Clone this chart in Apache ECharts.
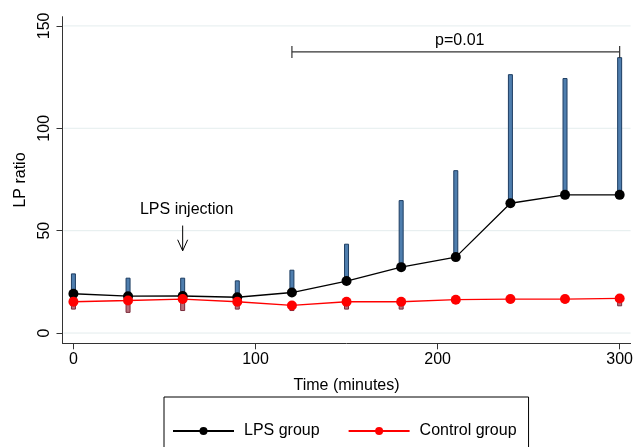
<!DOCTYPE html>
<html>
<head>
<meta charset="utf-8">
<script src="https://cdn.jsdelivr.net/npm/echarts@6/dist/echarts.min.js"></script>
<style>
html,body{margin:0;padding:0;background:#fff;}
#chart{width:636px;height:447px;}
</style>
</head>
<body>
<div id="chart"></div>
<script>
const times = [0, 30, 60, 90, 120, 150, 180, 210, 240, 270, 300];
const lpsMean = [19.2, 18.0, 18.1, 17.5, 19.8, 25.4, 32.2, 37.1, 63.4, 67.5, 67.5];
const lpsUpper = [28.9, 26.8, 26.8, 25.5, 30.7, 43.4, 64.7, 79.3, 126.2, 124.3, 134.5];
const ctrlMean = [15.3, 15.9, 16.6, 15.3, 13.5, 15.3, 15.3, 16.3, 16.6, 16.6, 16.9];
const ctrlLower = [11.7, 10.1, 11.0, 11.7, 11.0, 11.7, 11.7, 14.5, 14.8, 14.8, 13.3];
const xTicks = [0, 100, 200, 300];
const yTicks = [0, 50, 100, 150];
const seriesNames = ['LPS group', 'Control group'];
const pText = 'p=0.01';
const pRange = [120, 300];
const pLevel = 137.3;
const injText = 'LPS injection';
const injTime = 60;

const FONT = '"Liberation Sans", Arial, sans-serif';
const chart = echarts.init(document.getElementById('chart'), null, {renderer: 'canvas'});

function barRender(fill, stroke) {
  return function (params, api) {
    const p0 = api.coord([api.value(0), api.value(1)]);
    const p1 = api.coord([api.value(0), api.value(2)]);
    return {
      type: 'rect',
      shape: {x: p0[0] - 2, y: Math.min(p0[1], p1[1]), width: 4, height: Math.abs(p1[1] - p0[1])},
      style: {fill: fill, stroke: stroke, lineWidth: 1}
    };
  };
}

const option = {
  animation: false,
  backgroundColor: '#fff',
  textStyle: {fontFamily: FONT},
  grid: {left: 62.5, top: 16.7, width: 570.5, height: 326.6, containLabel: false},
  xAxis: {
    type: 'value', min: -6, max: 306,
    name: 'Time (minutes)', nameLocation: 'middle', nameGap: 34,
    nameTextStyle: {fontSize: 16, color: '#000', fontFamily: FONT},
    axisLine: {show: true, onZero: false, lineStyle: {color: '#333', width: 1}},
    axisTick: {show: true, customValues: xTicks, length: 6, lineStyle: {color: '#333'}},
    axisLabel: {customValues: xTicks, fontSize: 16, color: '#000', margin: 8, fontFamily: FONT},
    splitLine: {show: false}
  },
  yAxis: {
    type: 'value', min: -5, max: 154.5,
    name: 'LP ratio', nameLocation: 'middle', nameGap: 30, nameRotate: 90,
    nameTextStyle: {fontSize: 16, color: '#000', fontFamily: FONT},
    axisLine: {show: true, onZero: false, lineStyle: {color: '#333', width: 1}},
    axisTick: {show: true, customValues: yTicks, length: 6, lineStyle: {color: '#333'}},
    axisLabel: {customValues: yTicks, rotate: 90, fontSize: 16, color: '#000', margin: 10, fontFamily: FONT},
    splitLine: {show: false}
  },
  legend: {
    data: seriesNames,
    left: 164, top: 397,
    padding: [26, 12, 30, 8],
    borderColor: '#000', borderWidth: 1,
    itemWidth: 61, itemHeight: 10, itemGap: 28,
    textStyle: {fontSize: 16, color: '#000', fontFamily: FONT, padding: [0, 0, 0, 5]}
  },
  series: [
    {
      type: 'custom', name: 'gridlines', silent: true,
      encode: {y: 0},
      data: yTicks.map(v => [v]),
      renderItem: function (params, api) {
        const y = api.coord([0, api.value(0)])[1];
        const cs = params.coordSys;
        return {
          type: 'line',
          shape: {x1: cs.x + 1, y1: y, x2: cs.x + cs.width, y2: y},
          style: {stroke: '#e4edee', lineWidth: 1}
        };
      },
      z: 0
    },
    {
      type: 'custom', name: 'lpsSD',
      renderItem: barRender('#4f7eae', '#1d3d62'),
      encode: {x: 0, y: [1, 2]},
      data: times.map((t, i) => [t, lpsMean[i], lpsUpper[i]]),
      z: 1
    },
    {
      type: 'custom', name: 'ctrlSD',
      renderItem: barRender('#b9707c', '#7a2a3a'),
      encode: {x: 0, y: [1, 2]},
      data: times.map((t, i) => [t, ctrlMean[i], ctrlLower[i]]),
      z: 1
    },
    {
      type: 'line', name: seriesNames[0],
      data: times.map((t, i) => [t, lpsMean[i]]),
      symbol: 'circle', symbolSize: 10,
      lineStyle: {color: '#000', width: 1.3},
      itemStyle: {color: '#000'},
      z: 3
    },
    {
      type: 'line', name: seriesNames[1],
      data: times.map((t, i) => [t, ctrlMean[i]]),
      symbol: 'circle', symbolSize: 10,
      lineStyle: {color: '#ff0000', width: 1.3},
      itemStyle: {color: '#ff0000'},
      z: 4
    },
    {
      type: 'custom', name: 'annot', silent: true,
      data: [[0, 0]],
      renderItem: function (params, api) {
        const a = api.coord([pRange[0], pLevel]);
        const b = api.coord([pRange[1], pLevel]);
        const ls = {stroke: '#333', lineWidth: 1.2};
        const tickH = 6;
        const tp = api.coord([(pRange[0] + pRange[1]) / 2, pLevel]);
        const inj = api.coord([injTime, 60.2]);
        const ar0 = api.coord([injTime, 52.5]);
        const ar1 = api.coord([injTime, 40.2]);
        return {
          type: 'group',
          children: [
            {type: 'line', shape: {x1: a[0], y1: a[1], x2: b[0], y2: b[1]}, style: ls},
            {type: 'line', shape: {x1: a[0], y1: a[1] - tickH, x2: a[0], y2: a[1] + tickH}, style: ls},
            {type: 'line', shape: {x1: b[0], y1: b[1] - tickH, x2: b[0], y2: b[1] + tickH}, style: ls},
            {type: 'text', style: {text: pText, x: tp[0] + 4, y: tp[1] - 11, align: 'center', verticalAlign: 'middle', fontSize: 16, fill: '#000', fontFamily: FONT}},
            {type: 'text', style: {text: injText, x: inj[0] + 4, y: inj[1], align: 'center', verticalAlign: 'middle', fontSize: 16, fill: '#000', fontFamily: FONT}},
            {type: 'line', shape: {x1: ar0[0], y1: ar0[1], x2: ar1[0], y2: ar1[1]}, style: {stroke: '#000', lineWidth: 1}},
            {type: 'polyline', shape: {points: [[ar1[0] - 5, ar1[1] - 11], [ar1[0], ar1[1]], [ar1[0] + 5, ar1[1] - 11]]}, style: {stroke: '#000', lineWidth: 1, fill: 'none'}}
          ]
        };
      },
      z: 5
    }
  ]
};
chart.setOption(option);
</script>
</body>
</html>
